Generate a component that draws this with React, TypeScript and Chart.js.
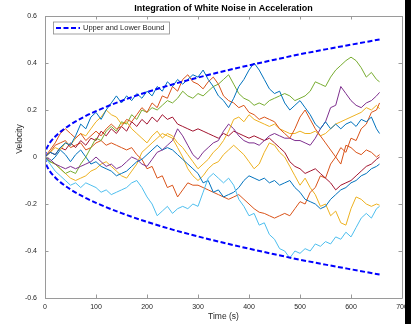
import React, { useEffect, useRef } from "react";
import { Chart, registerables } from "chart.js";

Chart.register(...registerables);

// Sample times (s) shared by every simulated run
const TIME_S = [
  0, 10, 20, 30, 40, 50, 60, 70, 80, 90, 100, 110, 120, 130, 140, 150, 160, 170, 180, 190,
  200, 210, 220, 230, 240, 250, 260, 270, 280, 290, 300, 310, 320, 330, 340, 350, 360, 370, 380, 390,
  400, 410, 420, 430, 440, 450, 460, 470, 480, 490, 500, 510, 520, 530, 540, 550, 560, 570, 580, 590,
  600, 610, 620, 630, 640, 650, 656,
];

// Velocity of each run (m/s)
const RUN_1 = [
  0, 0.02, 0.01, 0.04, 0.06, 0.05, 0.09, 0.14, 0.12, 0.17, 0.19, 0.16, 0.2, 0.23, 0.26, 0.23, 0.26, 0.24, 0.27, 0.25,
  0.28, 0.26, 0.3, 0.28, 0.32, 0.3, 0.33, 0.31, 0.33, 0.35, 0.34, 0.37, 0.33, 0.3, 0.26, 0.24, 0.21, 0.25, 0.3, 0.33,
  0.37, 0.4, 0.37, 0.33, 0.29, 0.27, 0.28, 0.23, 0.2, 0.22, 0.24, 0.21, 0.18, 0.14, 0.12, 0.15, 0.12, 0.14, 0.12, 0.14,
  0.15, 0.13, 0.16, 0.15, 0.17, 0.12, 0.1,
];
const RUN_2 = [
  0, 0.03, 0.06, 0.1, 0.12, 0.1, 0.08, 0.1, 0.07, 0.09, 0.11, 0.09, 0.12, 0.14, 0.12, 0.13, 0.16, 0.15, 0.18, 0.21,
  0.19, 0.23, 0.21, 0.26, 0.25, 0.3, 0.28, 0.33, 0.35, 0.32, 0.31, 0.29, 0.32, 0.34, 0.31, 0.26, 0.24, 0.23, 0.21, 0.22,
  0.19, 0.18, 0.16, 0.17, 0.16, 0.15, 0.12, 0.1, 0.08, 0.12, 0.17, 0.2, 0.16, 0.12, 0.09, 0.06, 0.03, 0.0, -0.03, 0.05,
  0.04, 0.02, 0.01, 0.03, 0.02, 0.0, 0.01,
];
const RUN_3 = [
  0, 0.02, 0.04, 0.03, 0.06, 0.05, 0.08, 0.1, 0.09, 0.12, 0.15, 0.17, 0.2, 0.18, 0.17, 0.14, 0.15, 0.12, 0.1, 0.08,
  0.06, 0.09, 0.11, 0.08, 0.1, 0.09, 0.06, 0.04, 0.01, -0.02, -0.05, -0.03, -0.01, 0.02, 0.04, 0.07, 0.11, 0.16, 0.17, 0.15,
  0.18, 0.16, 0.15, 0.14, 0.13, 0.14, 0.12, 0.11, 0.1, 0.1, 0.11, 0.1, 0.1, 0.11, 0.09, 0.1, 0.12, 0.14, 0.15, 0.16,
  0.17, 0.18, 0.19, 0.21, 0.2, 0.22, 0.205,
];
const RUN_4 = [
  0, -0.01, -0.03, -0.04, -0.05, -0.04, -0.05, -0.04, -0.03, -0.02, 0.0, -0.02, -0.04, -0.03, -0.05, -0.04, -0.02, 0.0, -0.01, -0.03,
  -0.04, -0.01, 0.02, 0.03, 0.05, 0.07, 0.12, 0.09, 0.05, 0.01, -0.01, 0.02, 0.04, 0.06, 0.07, 0.11, 0.14, 0.12, 0.09, 0.07,
  0.06, 0.06, 0.05, 0.07, 0.09, 0.1, 0.09, 0.08, 0.08, 0.07, 0.07, 0.06, 0.05, 0.08, 0.12, 0.15, 0.21, 0.22, 0.3, 0.27,
  0.24, 0.22, 0.21, 0.23, 0.24, 0.26, 0.275,
];
const RUN_5 = [
  0, -0.02, -0.03, -0.05, -0.07, -0.06, -0.07, -0.03, 0.0, 0.04, 0.08, 0.07, 0.11, 0.13, 0.11, 0.15, 0.14, 0.18, 0.16, 0.2,
  0.19, 0.21, 0.2, 0.22, 0.24, 0.23, 0.25, 0.28, 0.26, 0.25, 0.27, 0.26, 0.28, 0.3, 0.31, 0.33, 0.35, 0.31, 0.27, 0.25,
  0.24, 0.22, 0.23, 0.22, 0.24, 0.25, 0.26, 0.27, 0.26, 0.24, 0.25, 0.26, 0.28, 0.32, 0.31, 0.3, 0.34, 0.37, 0.39, 0.41,
  0.425, 0.41, 0.38, 0.34, 0.36, 0.33, 0.32,
];
const RUN_6 = [
  0, -0.03, -0.06, -0.08, -0.1, -0.12, -0.11, -0.13, -0.11, -0.12, -0.13, -0.15, -0.14, -0.16, -0.15, -0.14, -0.13, -0.11, -0.1, -0.13,
  -0.17, -0.2, -0.25, -0.23, -0.21, -0.24, -0.22, -0.21, -0.22, -0.2, -0.21, -0.15, -0.09, -0.07, -0.09, -0.11, -0.09, -0.12, -0.18, -0.21,
  -0.25, -0.24, -0.29, -0.28, -0.33, -0.35, -0.39, -0.4, -0.43, -0.4, -0.41, -0.39, -0.4, -0.37, -0.38, -0.36, -0.37, -0.34, -0.35, -0.32,
  -0.34, -0.3, -0.26, -0.24, -0.26, -0.22, -0.21,
];
const RUN_7 = [
  0, 0.02, 0.01, 0.04, 0.03, 0.06, 0.04, 0.07, 0.05, 0.08, 0.07, 0.11, 0.09, 0.12, 0.1, 0.13, 0.11, 0.15, 0.13, 0.16,
  0.14, 0.17, 0.15, 0.18, 0.16, 0.17, 0.14, 0.13, 0.12, 0.11, 0.12, 0.11, 0.1, 0.09, 0.08, 0.1, 0.09, 0.11, 0.1, 0.09,
  0.08, 0.09, 0.08, 0.07, 0.08, 0.06, 0.04, 0.02, -0.02, -0.04, -0.05, -0.07, -0.06, -0.05, -0.07, -0.09, -0.11, -0.14, -0.12, -0.11,
  -0.1, -0.08, -0.06, -0.04, -0.03, -0.01, 0.0,
];
const RUN_8 = [
  0, -0.02, 0.0, 0.03, 0.01, -0.02, 0.01, 0.03, 0.0, -0.03, -0.02, -0.04, -0.05, -0.06, -0.08, -0.07, -0.06, -0.04, -0.02, -0.01,
  0.01, 0.03, 0.05, 0.03, 0.04, 0.03, 0.01, -0.01, -0.03, -0.05, -0.07, -0.11, -0.1, -0.15, -0.14, -0.17, -0.16, -0.15, -0.13, -0.1,
  -0.08, -0.09, -0.1, -0.09, -0.11, -0.1, -0.12, -0.11, -0.1, -0.13, -0.15, -0.18, -0.19, -0.2, -0.22, -0.21, -0.18, -0.16, -0.14, -0.13,
  -0.11, -0.1, -0.08, -0.07, -0.05, -0.04, -0.03,
];
const RUN_9 = [
  0, 0.02, 0.05, 0.06, 0.07, 0.04, 0.05, 0.06, 0.03, 0.04, 0.06, 0.07, 0.05, 0.06, 0.05, 0.04, 0.03, 0.04, 0.01, -0.01,
  -0.05, -0.04, -0.09, -0.08, -0.13, -0.12, -0.17, -0.14, -0.11, -0.12, -0.12, -0.13, -0.14, -0.15, -0.16, -0.17, -0.18, -0.17, -0.16, -0.18,
  -0.2, -0.22, -0.235, -0.24, -0.25, -0.26, -0.25, -0.24, -0.25, -0.22, -0.19, -0.2, -0.15, -0.13, -0.08, -0.09, -0.03, 0.0, 0.04, 0.02,
  0.08, 0.07, 0.12, 0.14, 0.19, 0.2, 0.23,
];
const RUN_10 = [
  0, -0.02, -0.03, -0.05, -0.07, -0.09, -0.1, -0.09, -0.08, -0.06, -0.05, -0.03, -0.02, -0.04, -0.06, -0.08, -0.09, -0.06, -0.03, 0.02,
  0.04, 0.06, 0.08, 0.1, 0.09, 0.08, 0.04, 0.0, -0.05, -0.08, -0.1, -0.08, -0.05, -0.03, -0.02, 0.01, 0.03, 0.05, 0.03, 0.01,
  -0.02, -0.05, -0.03, 0.02, 0.06, 0.05, 0.02, 0.0, -0.04, -0.08, -0.12, -0.09, -0.13, -0.16, -0.21, -0.2, -0.25, -0.23, -0.28, -0.29,
  -0.22, -0.17, -0.18, -0.2, -0.21, -0.2, -0.205,
];

const RUNS = [RUN_1, RUN_2, RUN_3, RUN_4, RUN_5, RUN_6, RUN_7, RUN_8, RUN_9, RUN_10];
const RUN_COLORS = [
  "#0072BD", "#D95319", "#EDB120", "#7E2F8E", "#77AC30",
  "#4DBEEE", "#A2142F", "#0072BD", "#D95319", "#EDB120",
];

// Envelope of the expected spread
const BOUND_T = [0, 2, 5, 10, 20, 30, 50, 75, 100, 150, 200, 250, 300, 350, 400, 450, 500, 550, 600, 656];
const UPPER_BOUND = [0, 0.028, 0.044, 0.062, 0.087, 0.107, 0.138, 0.169, 0.195, 0.239, 0.276, 0.309, 0.338, 0.365, 0.39, 0.414, 0.437, 0.458, 0.478, 0.5];
const LOWER_BOUND = [0, -0.028, -0.044, -0.062, -0.087, -0.107, -0.138, -0.169, -0.195, -0.239, -0.276, -0.309, -0.338, -0.365, -0.39, -0.414, -0.437, -0.458, -0.478, -0.5];

const X_MIN = 0;
const X_MAX = 700;
const X_STEP = 100;
const Y_MIN = -0.6;
const Y_MAX = 0.6;
const Y_STEP = 0.2;

const TITLE = "Integration of White Noise in Acceleration";
const X_LABEL = "Time (s)";
const Y_LABEL = "Velocity";
const LEGEND_LABEL = "Upper and Lower Bound";

const FONT = "'Liberation Sans', Arial, Helvetica, sans-serif";
const TEXT_COLOR = "#262626";
const AXIS_COLOR = "#9a9a9a";
const BOUND_COLOR = "#0000FF";
const BOUND_DASH = [5, 2.5];

const framePlugin = {
  id: "matlabFrame",
  afterDraw(chart: any) {
    const { ctx, chartArea } = chart;
    const { left, right, top, bottom } = chartArea;
    const xs = chart.scales.x;
    const ys = chart.scales.y;
    ctx.save();

    // axes box
    ctx.strokeStyle = AXIS_COLOR;
    ctx.lineWidth = 1;
    ctx.beginPath();
    ctx.rect(Math.round(left) + 0.5, Math.round(top) + 0.5, Math.round(right - left), Math.round(bottom - top));
    ctx.stroke();

    // inward tick marks on all four sides
    const tl = 3.5;
    ctx.beginPath();
    xs.ticks.forEach((t: any) => {
      const px = Math.round(xs.getPixelForValue(t.value)) + 0.5;
      ctx.moveTo(px, bottom);
      ctx.lineTo(px, bottom - tl);
      ctx.moveTo(px, top);
      ctx.lineTo(px, top + tl);
    });
    ys.ticks.forEach((t: any) => {
      const py = Math.round(ys.getPixelForValue(t.value)) + 0.5;
      ctx.moveTo(left, py);
      ctx.lineTo(left + tl, py);
      ctx.moveTo(right, py);
      ctx.lineTo(right - tl, py);
    });
    ctx.stroke();

    // title
    ctx.fillStyle = "#000";
    ctx.font = `bold 9px ${FONT}`;
    ctx.textAlign = "center";
    ctx.textBaseline = "middle";
    ctx.fillText(TITLE, (left + right) / 2, 9);

    // axis labels
    ctx.fillStyle = TEXT_COLOR;
    ctx.font = `8.5px ${FONT}`;
    ctx.fillText(X_LABEL, (left + right) / 2, 317);
    ctx.save();
    ctx.translate(20, 139);
    ctx.rotate(-Math.PI / 2);
    ctx.fillText(Y_LABEL, 0, 0);
    ctx.restore();

    // legend box
    const lx = 53, ly = 21.5, lw = 116, lh = 12;
    ctx.fillStyle = "#fff";
    ctx.fillRect(lx, ly, lw, lh);
    ctx.strokeStyle = "#8a8a8a";
    ctx.lineWidth = 0.8;
    ctx.strokeRect(lx + 0.5, ly + 0.5, lw, lh);
    ctx.strokeStyle = BOUND_COLOR;
    ctx.lineWidth = 2;
    ctx.setLineDash(BOUND_DASH);
    ctx.beginPath();
    ctx.moveTo(56, ly + lh / 2 + 0.5);
    ctx.lineTo(80, ly + lh / 2 + 0.5);
    ctx.stroke();
    ctx.setLineDash([]);
    ctx.fillStyle = TEXT_COLOR;
    ctx.font = `7.5px ${FONT}`;
    ctx.textAlign = "left";
    ctx.fillText(LEGEND_LABEL, 83, ly + lh / 2 + 0.8);

    ctx.restore();
  },
};

export default function App() {
  const canvasRef = useRef<HTMLCanvasElement | null>(null);

  useEffect(() => {
    const canvas = canvasRef.current;
    if (!canvas) return;

    const runSets = RUNS.map((run, i) => ({
      label: `Run ${i + 1}`,
      data: TIME_S.map((t, k) => ({ x: t, y: run[k] })),
      borderColor: RUN_COLORS[i],
      borderWidth: 1,
      pointRadius: 0,
      tension: 0,
      fill: false,
      order: 2,
    }));

    const boundSets = [UPPER_BOUND, LOWER_BOUND].map((vals, i) => ({
      label: i === 0 ? LEGEND_LABEL : "",
      data: BOUND_T.map((t, k) => ({ x: t, y: vals[k] })),
      borderColor: BOUND_COLOR,
      borderWidth: 2,
      borderDash: BOUND_DASH,
      pointRadius: 0,
      cubicInterpolationMode: "monotone" as const,
      fill: false,
      order: 1,
    }));

    const tickFont = { family: FONT, size: 7 };

    const chart = new Chart(canvas, {
      type: "line",
      data: { datasets: [...boundSets, ...runSets] as any },
      options: {
        responsive: false,
        animation: false,
        devicePixelRatio: 1,
        layout: { padding: { left: 0, top: 16, right: 14, bottom: 0 } },
        plugins: {
          legend: { display: false },
          title: { display: false },
          tooltip: { enabled: false },
        },
        scales: {
          x: {
            type: "linear",
            min: X_MIN,
            max: X_MAX,
            grid: { display: false, drawTicks: false },
            border: { display: false },
            ticks: {
              stepSize: X_STEP,
              font: tickFont,
              color: TEXT_COLOR,
              padding: 5,
              maxRotation: 0,
              autoSkip: false,
            },
            afterFit: (s: any) => {
              s.height = 26;
            },
          },
          y: {
            type: "linear",
            min: Y_MIN,
            max: Y_MAX,
            grid: { display: false, drawTicks: false },
            border: { display: false },
            ticks: {
              stepSize: Y_STEP,
              font: tickFont,
              color: TEXT_COLOR,
              padding: 8,
              autoSkip: false,
              callback: (v: any) => {
                const n = Number(v);
                return Math.abs(n) < 1e-9 ? "0" : n.toFixed(1);
              },
            },
            afterFit: (s: any) => {
              s.width = 45;
            },
          },
        },
      },
      plugins: [framePlugin],
    });

    return () => chart.destroy();
  }, []);

  return (
    <div style={{ position: "absolute", left: 0, top: 0, width: 416, height: 324, background: "#fff" }}>
      <canvas ref={canvasRef} width={416} height={324} style={{ display: "block", width: 416, height: 324 }} />
      <div style={{ position: "absolute", left: 405, top: 0, width: 6, height: 324, background: "#000" }} />
    </div>
  );
}
